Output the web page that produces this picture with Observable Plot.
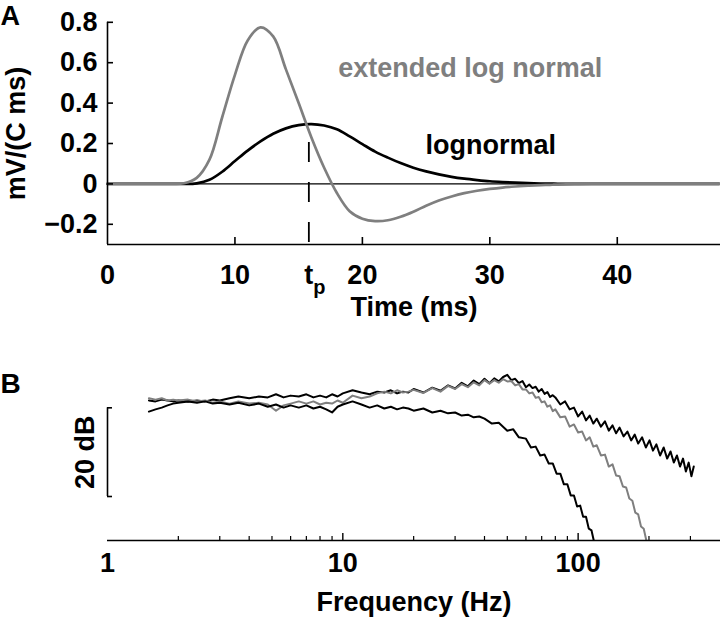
<!DOCTYPE html>
<html><head><meta charset="utf-8">
<script src="https://cdn.jsdelivr.net/npm/d3@7"></script>
<script src="https://cdn.jsdelivr.net/npm/@observablehq/plot@0.6"></script>
<style>
body{margin:0;background:#fff;}
#wrap{width:720px;height:618px;overflow:hidden;}
#wrap svg{display:block;}
</style></head><body><div id="wrap"></div>
<script>
// ---------- Panel A: impulse responses ----------
const timeMs = [0,1,2,3,4,5,6,7,8,9,10,11,12,13,14,15,16,17,18,19,20,21,22,23,24,25,26,27,28,29,30,31,32,33,34,35,36,37,38,39,40,41,42,43,44,45,46,47,48];
const lognormal = [0,0,0,0,0,0,0,0.003,0.02,0.06,0.113,0.165,0.21,0.248,0.275,0.291,0.296,0.289,0.27,0.235,0.197,0.16,0.13,0.103,0.08,0.062,0.047,0.035,0.026,0.019,0.013,0.009,0.006,0.004,0.002,0.001,0,0,0,0,0,0,0,0,0,0,0,0,0];
const extendedLogNormal = [0,0,0,0,0,0,0.003,0.03,0.12,0.33,0.54,0.71,0.775,0.73,0.567,0.40,0.23,0.08,-0.045,-0.135,-0.172,-0.184,-0.18,-0.163,-0.138,-0.108,-0.082,-0.062,-0.046,-0.034,-0.025,-0.018,-0.013,-0.009,-0.006,-0.004,-0.002,-0.001,0,0,0,0,0,0,0,0,0,0,0];
const tPeak = 15.8;
const xTicksA = [0,10,20,30,40];
const yTicksA = [-0.2,0,0.2,0.4,0.6,0.8];
const labelsA = [
  {text:"extended log normal", x:18.1, y:0.57, color:"gray"},
  {text:"lognormal", x:24.95, y:0.193, color:"black"}
];

// ---------- Panel B: spectra (dB, relative) ----------
const upperHz = [1.5,1.6,1.7,1.8,1.9,2.0,2.2,2.4,2.6,2.8,3.0,3.3,3.6,4.0,4.4,4.8,5.2,5.6,6.0,6.5,7.0,7.5,8.0,8.5,9.0,9.5,10,11,12,13,14,15,16,17,18,19,
  20,22,24,26,28,30,32,34,36,38,40,42,44,46,48,50,52,54,56,58,60,62,64,66,68,70,72,74,76,78,
  80,84,88,92,96,100,104,108,112,116,120,125,130,135,140,145,150,156,162,168,174,180,187,194,201,208,215,223,231,239,247,255,263,271,279,287,295,303,310];
const upperDb = [0,-0.2,0.2,0,-0.2,0,-0.2,0,-0.2,0.2,0,0.5,0.9,0.5,0.9,0.7,1.4,0.7,1.1,0.9,1.4,0.7,1.1,0.7,1.4,0.9,1.6,2.3,1.8,1.4,2.0,1.8,2.3,1.6,2.0,1.8,
  2.6,1.8,2.9,2.2,3.4,2.7,4.0,3.2,4.5,3.7,4.9,3.9,5.0,4.3,5.3,5.8,4.6,4.9,3.9,4.4,3.0,3.6,2.8,3.1,2.0,2.6,1.5,1.9,0.8,1.2,
  0.7,-0.9,-0.2,-2.0,-1.6,-3.6,-2.5,-4.5,-3.4,-5.2,-4.1,-5.9,-4.7,-6.8,-5.6,-7.4,-6.1,-8.1,-7.0,-9.0,-7.7,-9.7,-8.3,-10.6,-9.0,-11.3,-9.9,-12.4,-10.6,-13.1,-11.5,-14.0,-12.4,-14.9,-13.1,-16.0,-14.0,-17.1,-14.9];
const grayHz = [1.5,1.6,1.7,1.8,1.9,2.0,2.2,2.4,2.6,2.8,3.0,3.3,3.6,4.0,4.4,4.8,5.2,5.6,6.0,6.5,7.0,7.5,8.0,8.5,9.0,9.5,10,11,12,13,14,15,16,17,18,19,
  20,22,24,26,28,30,32,34,36,38,40,42,44,46,48,50,52,54,56,58,60,62,64,66,68,70,72,74,76,78,
  80,84,88,92,96,100,104,108,112,116,120,125,130,135,140,145,150,155,160,165,170,175,180,185,190,195,200];
const grayDb = [0.5,0.2,0.5,0,0.2,0,0.2,-0.2,0,-0.5,-0.2,-0.7,-0.2,-0.7,-0.5,-0.9,-2.3,-1.1,-0.7,-0.2,-0.7,-0.2,-0.9,-0.5,-0.7,0,-0.5,1.1,0.5,0.9,1.6,2.0,1.6,2.3,1.8,2.0,
  2.4,1.7,2.8,2.0,3.3,2.6,3.7,3.0,4.1,3.4,4.6,3.8,4.6,4.0,4.8,4.3,4.4,3.4,3.7,2.5,2.5,1.6,1.8,0.6,0.8,-0.4,-0.2,-1.4,-1.1,-2.4,
  -2.0,-3.8,-3.6,-5.9,-5.4,-7.2,-7.0,-9.0,-8.3,-10.4,-10.1,-12.4,-12.2,-14.9,-14.4,-16.9,-17.1,-19.4,-19.6,-22.1,-22.6,-25.3,-25.7,-28.4,-28.9,-31.6,-32.9];
const lowerHz = [1.5,1.6,1.7,1.8,1.9,2.0,2.2,2.4,2.6,2.8,3.0,3.3,3.6,4.0,4.4,4.8,5.2,5.6,6.0,6.5,7.0,7.5,8.0,8.5,9.0,9.5,10,11,12,13,14,15,16,17,18,19,20,22,24,26,28,30,32,34,36,38,
  40,43,46,50,53,56,60,63,66,69,72,75,78,81,84,87,90,93,96,99,102,105,108,111,114,117];
const lowerDb = [-2.5,-2.0,-1.6,-1.1,-0.7,-0.5,-0.2,-0.5,-0.2,-0.7,-0.5,-0.9,-0.5,-1.1,-0.7,-1.4,-0.9,-1.6,-1.1,-1.6,-1.1,-1.8,-1.4,-2.0,-2.7,-1.4,-0.9,-0.2,-0.9,-1.6,-1.1,-1.8,-1.4,-2.0,-1.6,-1.8,-2.3,-1.8,-2.7,-2.3,-2.9,-2.7,-3.4,-3.2,-3.8,-3.6,
  -4.1,-5.2,-5.0,-6.8,-6.5,-8.3,-8.6,-10.6,-10.4,-12.4,-12.2,-14.2,-14.2,-16.5,-16.5,-18.9,-18.9,-21.4,-21.4,-23.9,-23.7,-26.2,-26.2,-28.9,-29.3,-32.0];
const freqMajor = [1,10,100];
const freqMinor = [2,3,4,5,6,7,8,9,20,30,40,50,60,70,80,90,200,300];
const scaleBarTopDb = -1.65;
const scaleBarDb = 20;

const FONT = "'Liberation Sans', Arial, Helvetica, sans-serif";
const GRAY = "#7f7f7f";
const baseStyle = {fontFamily: FONT, fontSize: "27px", fontWeight: "bold", background: "white", color: "black", overflow: "visible"};
const fmtA = d => d === 0 ? "0" : (d < 0 ? "\u2212" : "") + String(Math.abs(d));

// Panel A geometry
const aW = 720, aH = 330, aML = 107, aMT = 21.8, aMB = 86;
const aFrameW = aW - aML, aFrameH = aH - aMT - aMB;
const yMinA = -0.3, yMaxA = 0.8;

const plotA = Plot.plot({
  width: aW, height: aH, marginLeft: aML, marginRight: 0, marginTop: aMT, marginBottom: aMB,
  style: baseStyle,
  x: {domain: [0, 48.1]},
  y: {domain: [yMinA, yMaxA]},
  marks: [
    Plot.ruleY([0], {strokeWidth: 1.2}),
    Plot.ruleX([tPeak], {y1: 0.205, y2: yMinA, strokeDasharray: "20,20", strokeWidth: 1.8}),
    Plot.line(lognormal, {x: (d, i) => timeMs[i], y: d => d, stroke: "black", strokeWidth: 2.7, curve: "catmull-rom"}),
    Plot.line(extendedLogNormal, {x: (d, i) => timeMs[i], y: d => d, stroke: GRAY, strokeWidth: 2.7, curve: "catmull-rom"}),
    Plot.ruleX([0], {strokeWidth: 1.6}),
    Plot.ruleY([yMinA], {strokeWidth: 1.6}),
    Plot.ruleY(yTicksA, {insetRight: aFrameW - 6, strokeWidth: 1.6}),
    Plot.ruleX(xTicksA.filter(d => d > 0), {insetTop: aFrameH - 7, strokeWidth: 1.6}),
    Plot.axisY({ticks: yTicksA, tickSize: 0, tickPadding: 10, label: null, tickFormat: fmtA}),
    Plot.axisX({ticks: xTicksA, tickSize: 0, tickPadding: 20, label: null, tickFormat: d => String(d)}),
    Plot.text(["t"], {x: tPeak, frameAnchor: "bottom", lineAnchor: "top", textAnchor: "middle", dy: 20}),
    Plot.text(["p"], {x: tPeak, frameAnchor: "bottom", lineAnchor: "top", textAnchor: "start", dx: 4.5, dy: 35, fontSize: 20}),
    Plot.text(["Time (ms)"], {frameAnchor: "bottom", lineAnchor: "top", textAnchor: "middle", dy: 52}),
    Plot.text(["mV/(C ms)"], {frameAnchor: "left", rotate: -90, textAnchor: "middle", lineAnchor: "middle", dx: -91}),
    Plot.text(["A"], {frameAnchor: "top-left", textAnchor: "start", lineAnchor: "top", dx: -aML, dy: -16}),
    Plot.text(labelsA, {x: "x", y: "y", text: "text", textAnchor: "start", lineAnchor: "middle", fill: d => d.color === "gray" ? GRAY : "black"})
  ]
});

// Panel B geometry
const bW = 720, bH = 288, bML = 107, bMT = 30, bMB = 78;
const bFrameH = bH - bMT - bMB;
const bYDomain = [-31.57, 9.02];

const plotB = Plot.plot({
  width: bW, height: bH, marginLeft: bML, marginRight: 0, marginTop: bMT, marginBottom: bMB,
  style: baseStyle,
  x: {type: "log", domain: [1, 402.7]},
  y: {domain: bYDomain, axis: null},
  marks: [
    Plot.line(upperDb, {x: (d, i) => upperHz[i], y: d => d, stroke: "black", strokeWidth: 2, clip: true}),
    Plot.line(grayDb, {x: (d, i) => grayHz[i], y: d => d, stroke: GRAY, strokeWidth: 2, clip: true}),
    Plot.line(lowerDb, {x: (d, i) => lowerHz[i], y: d => d, stroke: "black", strokeWidth: 2, clip: true}),
    Plot.ruleY([bYDomain[0]], {strokeWidth: 1.6}),
    Plot.ruleX(freqMajor.filter(d => d > 1), {insetTop: bFrameH - 7, strokeWidth: 1.4}),
    Plot.ruleX(freqMinor, {insetTop: bFrameH - 4, strokeWidth: 1.2}),
    Plot.axisX({ticks: freqMajor, tickSize: 0, tickPadding: 12.5, label: null, tickFormat: d => String(d)}),
    Plot.ruleX([1], {y1: scaleBarTopDb, y2: scaleBarTopDb - scaleBarDb, strokeWidth: 1.6}),
    Plot.ruleY([scaleBarTopDb, scaleBarTopDb - scaleBarDb], {x1: 1, x2: 1.05, strokeWidth: 1.6}),
    Plot.text([`${scaleBarDb} dB`], {x: 1, y: scaleBarTopDb - scaleBarDb / 2, rotate: -90, textAnchor: "middle", lineAnchor: "middle", dx: -22}),
    Plot.text(["Frequency (Hz)"], {frameAnchor: "bottom", lineAnchor: "top", textAnchor: "middle", dy: 51}),
    Plot.text(["B"], {frameAnchor: "top-left", textAnchor: "start", lineAnchor: "top", dx: -bML, dy: 13, fontSize: 28})
  ]
});

const wrap = document.getElementById("wrap");
wrap.appendChild(plotA);
wrap.appendChild(plotB);
</script>
</body></html>
